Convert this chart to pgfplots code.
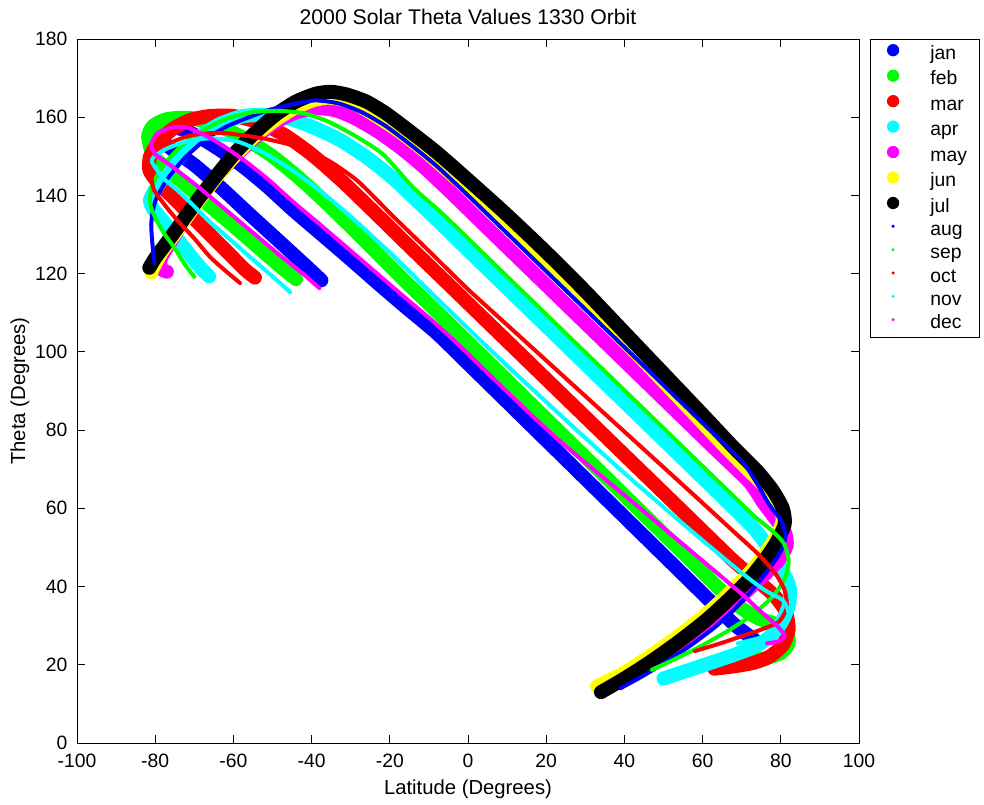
\documentclass[border=0pt]{standalone}
\usepackage{fontspec}
\setmainfont{Liberation Sans}
\usepackage{pgfplots}
\pgfplotsset{compat=1.18}
\definecolor{mblue}{rgb}{0,0,1}
\definecolor{mgreen}{rgb}{0,1,0}
\definecolor{mred}{rgb}{1,0,0}
\definecolor{mcyan}{rgb}{0,1,1}
\definecolor{mmag}{rgb}{1,0,1}
\definecolor{myel}{rgb}{1,1,0}
\pgfplotsset{
  thk/.style={line width=10.5pt, line cap=round, line join=round, smooth, tension=0.4},
  thn/.style={line width=3pt, line cap=round, line join=round, smooth, tension=0.4},
}
\newcommand{\fs}{\fontsize{14.5}{17}\selectfont}
\newcommand{\fl}{\fontsize{15.2}{18}\selectfont}
\newcommand{\ft}{\fontsize{15.9}{19}\selectfont}
\newcommand{\bigdot}[1]{\path[draw=none] (-8pt,0) -- (8pt,0); \fill[#1, draw=none] (0pt,0.35em) circle (4.6pt);}
\newcommand{\smalldot}[1]{\path[draw=none] (-8pt,0) -- (8pt,0); \fill[#1, draw=none] (0pt,0.35em) circle (1.3pt);}
\begin{document}
\begin{tikzpicture}
\begin{axis}[
  scale only axis, width=586.5pt, height=528pt,
  xmin=-100, xmax=100, ymin=0, ymax=180,
  xtick={-100,-80,-60,-40,-20,0,20,40,60,80,100},
  xticklabels={-100,-80,-60,-40,-20,0,20,40,60,80,100},
  ytick={0,20,40,60,80,100,120,140,160,180},
  yticklabels={0,20,40,60,80,100,120,140,160,180},
  tick align=inside, major tick length=6pt,
  every tick/.style={black, line width=0.6pt},
  axis line style={line width=0.6pt},
  tick label style={font=\fs},
  yticklabel style={xshift=-3.75pt},
  xticklabel style={yshift=-4.8pt},
  label style={font=\fl},
  every axis title/.style={at={(0.5,1.03125)}, anchor=center, font=\ft},
  title={2000 Solar Theta Values 1330 Orbit},
  xlabel={Latitude (Degrees)},
  ylabel={Theta (Degrees)},
  xlabel style={at={(axis description cs:0.5,-0.0655)}, anchor=center},
  ylabel style={at={(axis description cs:-0.0729,0.5)}, anchor=center},
  legend style={at={(1.0141,1)}, anchor=north west, draw=black, line width=0.6pt, fill=white,
    font=\fs, inner xsep=9pt, inner ysep=3.5pt, row sep=4.5pt,
    nodes={inner sep=0pt, text height=10pt, text depth=3pt},
    /tikz/every odd column/.style={column sep=20pt}},
  legend cell align=left,
]
\coordinate (sw) at (rel axis cs:0,0);
\addplot[mblue, thk, legend image code/.code={\bigdot{mblue}}] coordinates {
(74,25.8) (68,30.4) (60,38.2) (50,48) (40,57.8) (30,67.6) (20,77.4) (10,87.2) (0,97) (-8,104.8) (-16,111.5) (-23,117.5) (-31,124.5) (-38,130.5) (-45,136.5) (-51,142) (-57,147) (-62.5,151) (-67.5,154.2) (-72,156.5) (-75.5,157.5) (-78.5,156.8) (-79.5,155) (-78,153.6) (-75,151.3) (-70,147.8) (-63,141.8) (-56,135.3) (-48,128) (-42,122.5) (-37.5,118.3)};
\addlegendentry{jan}
\addplot[mgreen, thk, legend image code/.code={\bigdot{mgreen}}] coordinates {
(72,21) (76.5,21.8) (80,23) (82,25.5) (81.5,28.5) (78.5,30.5) (74,32) (68,35.9) (60,43.7) (50,53.5) (40,63.3) (30,73.1) (20,82.9) (10,92.7) (0,102.5) (-8,110.3) (-16,118) (-23,125) (-30,132) (-37,138.8) (-43,144.3) (-50,150) (-57,154.5) (-64,157.8) (-71,159.8) (-77,159.5) (-80.5,157.8) (-81.8,155) (-80.5,150.2) (-77,146.8) (-72,142.5) (-66,137.3) (-60,132.2) (-54,127) (-49,122.7) (-46,120.2) (-44,118.6)};
\addlegendentry{feb}
\addplot[mred, thk, legend image code/.code={\bigdot{mred}}] coordinates {
(63,19) (68,19.6) (73,20.5) (77,22) (80.5,25) (82,29) (81.3,33.5) (78.5,37.5) (74,41.5) (68,46.5) (58,56.2) (48,65.9) (38,75.6) (28,85.3) (18,95) (8,104.7) (-2,114.4) (-14,126) (-23,134.8) (-32,143.5) (-40,150.5) (-47,155.5) (-54,158.8) (-60,160.3) (-66,160.3) (-71,159.3) (-75.5,157) (-79,153.8) (-81.3,150) (-81.5,146.5) (-79.5,143.5) (-76,140) (-71,135) (-66,130) (-61,125) (-57,121) (-54.5,119)};
\addlegendentry{mar}
\addplot[mcyan, thk, legend image code/.code={\bigdot{mcyan}}] coordinates {
(50,16.5) (56,18.5) (62,20.5) (68,22.5) (73,24.5) (77,27) (80,30.5) (82,35) (82.3,39.5) (80.5,44) (77.5,49) (73,55) (64,63.9) (54,73.6) (44,83.3) (34,93) (24,102.7) (14,112.4) (4,122.1) (-4,129.9) (-12,137.6) (-19,144.2) (-26,149.8) (-33,154.3) (-40,157.6) (-46,159.7) (-52,160.6) (-58,160.2) (-64,158) (-70,154) (-75,148.5) (-79,143) (-81.3,139) (-80.5,136.5) (-78,133.5) (-75,129.7) (-71.5,125.3) (-68.5,121.6) (-66.2,119.3)};
\addlegendentry{apr}
\addplot[mmag, thk, legend image code/.code={\bigdot{mmag}}] coordinates {
(40,17.5) (47,21) (54,25) (61,30) (67,35) (72,39.5) (76,43.2) (79.5,46.8) (81.5,50.5) (81,54) (78.5,57.5) (75.5,61.5) (72,66.7) (64,74.4) (54,84.1) (44,93.8) (34,103.5) (24,113.2) (14,122.9) (4,132.6) (-4,140.4) (-11,147) (-17,152) (-23,156.3) (-29,159.8) (-34,161.8) (-39,162.3) (-44,161.2) (-49,158.8) (-54,155.2) (-59,150.6) (-64,145.2) (-68.5,139.5) (-72.5,133.8) (-76,128.2) (-78.5,124) (-78.5,121.3) (-77,120.5)};
\addlegendentry{may}
\addplot[myel, thk, legend image code/.code={\bigdot{myel}}] coordinates {
(33,14.5) (40,18) (47,22.5) (54,27.5) (61,33) (67,38.5) (72,43.5) (76,48.5) (79,53) (80.5,57) (79.5,61) (76.5,65) (72,69.5) (66,75.5) (58,84) (48,94.5) (38,105) (28,115.5) (18,125.5) (8,135) (-2,143.5) (-10,150.5) (-17,156) (-23,160) (-28,163) (-32,164.5) (-36,165) (-40,164.2) (-45,162) (-50,158.8) (-55,154.8) (-60,149.8) (-65,143.8) (-70,137.2) (-74,131.5) (-78,126) (-80.5,121.5) (-81,120.3)};
\addlegendentry{jun}
\addplot[black, thk, legend image code/.code={\bigdot{black}}] coordinates {
(34,13) (40,16.5) (47,21) (54,26) (61,31.5) (67,37) (72,42) (76,47) (79,51.5) (81,56) (80.5,60) (78,64.5) (74,69.5) (68,75.5) (60,84) (50,94.5) (40,105) (30,115.5) (20,125.5) (10,135) (0,144) (-8,151) (-15,156.5) (-21,161) (-26,164) (-31,165.8) (-35,166.5) (-39,166) (-44,164) (-49,160.8) (-54,156.5) (-59,151.5) (-64,145.5) (-69,139) (-73,133.5) (-77,128) (-80,124) (-81.5,121.5)};
\addlegendentry{jul}
\addplot[mblue, thn, legend image code/.code={\smalldot{mblue}}] coordinates {
(39,14) (45,17.3) (51,21) (57,25) (63,29.5) (68,34) (73,39.5) (77,44.5) (80,49) (81.2,53) (80,57) (77,61) (74,66.2) (70,72.1) (60,81.8) (50,91.5) (40,101.2) (30,110.9) (20,120.6) (10,130.3) (0,140) (-8,147.5) (-15,153.2) (-21,157.7) (-27,161.2) (-33,163.5) (-39,164.3) (-45,163.3) (-51,161.8) (-56,160) (-62,157.5) (-67.5,154) (-72.5,149.5) (-77,144) (-80,138.5) (-81,133) (-80.7,127.5) (-80.2,122.8)};
\addlegendentry{aug}
\addplot[mgreen, thn, legend image code/.code={\smalldot{mgreen}}] coordinates {
(47,18.7) (53,21.5) (60,25) (67,29) (73,33) (78,37.5) (81,42) (82,46.5) (80.8,51) (77.5,54.5) (73,58.2) (64,66.9) (54,76.6) (44,86.3) (34,96) (24,105.7) (14,115.4) (4,125.1) (-6.4,135.2) (-14,142) (-21.7,150.5) (-29,155.3) (-36,159) (-42,161) (-48,161.6) (-55,161.3) (-62,159.5) (-68,156.5) (-73.5,152.5) (-78,147.5) (-81,142) (-81.2,137.5) (-79.8,134) (-77.8,130.4) (-75,126.5) (-72.5,122.5) (-70,119.2)};
\addlegendentry{sep}
\addplot[mred, thn, legend image code/.code={\smalldot{mred}}] coordinates {
(58,23.5) (64,25.3) (70,27.3) (75,29) (79.5,31) (81.5,34.5) (81,39) (78.5,43.5) (74,48.5) (68,54) (59.3,62) (50,70.5) (40,79.6) (30,88.7) (20,97.8) (10,106.9) (0,116) (-10.2,126) (-19,134.5) (-28,143.5) (-35,148.5) (-42,152) (-52,154.5) (-63,156) (-71,155.3) (-77,153) (-80.5,149.5) (-81,145) (-80.3,141.4) (-77.5,137.5) (-74.4,133.7) (-70,129) (-66,124.3) (-62,120.7) (-58.3,117.6)};
\addlegendentry{oct}
\addplot[mcyan, thn, legend image code/.code={\smalldot{mcyan}}] coordinates {
(69,25.5) (75,27) (80,29.5) (82,33) (80.5,36.5) (76,39) (70,43.5) (60,51.8) (50,60.3) (40,69) (30,78) (20,87.2) (10,96.5) (0,106) (-10,115.7) (-20,125.4) (-30,134.6) (-38,141.3) (-45,146.5) (-52,150.8) (-59,153.8) (-66,154.6) (-72,153.8) (-77,152) (-80.2,150) (-80.8,148.5) (-78,144.5) (-74.4,141.4) (-70,137.2) (-66,133.2) (-60,128) (-55,123.6) (-50,119.3) (-45.5,115.3)};
\addlegendentry{nov}
\addplot[mmag, thn, legend image code/.code={\smalldot{mmag}}] coordinates {
(76.5,25.5) (79.5,26) (81,27.5) (79,30) (75,33.5) (70,38.1) (62,44.9) (52,53.3) (42,61.7) (32,70) (22,78.5) (11,88.8) (0,99.5) (-8,107) (-16,113.8) (-23,119.8) (-31,126.7) (-38,132.7) (-45,138.6) (-51,144) (-57,148.8) (-62.5,152.6) (-67.5,155.5) (-72,157.4) (-76,157.3) (-79.5,155.8) (-81,153) (-80,150.5) (-76.5,148) (-70,143) (-63,137.2) (-56,131.3) (-48,124.6) (-42,119.8) (-38,116.3)};
\addlegendentry{dec}
\end{axis}
\pgfresetboundingbox
\path (sw) ++(-57.75pt,-46.5pt) rectangle ++(738pt,603.75pt);
\end{tikzpicture}
\end{document}
